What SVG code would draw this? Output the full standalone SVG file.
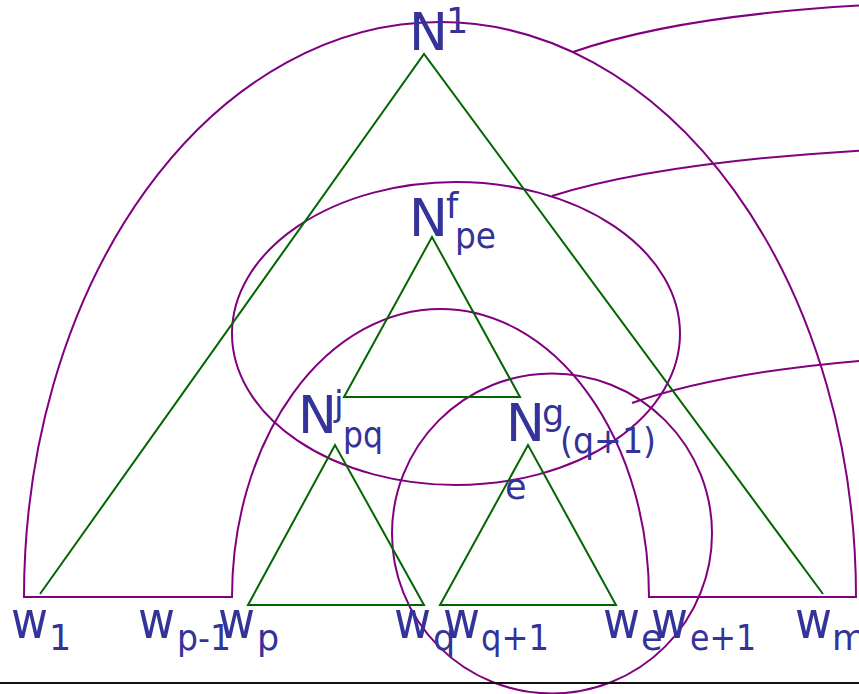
<svg xmlns="http://www.w3.org/2000/svg" width="859" height="694" viewBox="0 0 859 694">
<style>
.p{fill:none;stroke:#800080;stroke-width:2}
.g{fill:none;stroke:#006600;stroke-width:2;stroke-linejoin:miter}
.t{font-family:"DejaVu Sans","Verdana",sans-serif;fill:#333399}
.m{font-size:52px}
.s{font-size:35px}
</style>
<rect width="859" height="694" fill="#fff"/>
<g id="regions">
<path class="p" d="M24 597 A416 575 0 0 1 856 597 L649 597 A208.5 288 0 0 0 232 597 Z"/>
<ellipse class="p" cx="456" cy="333.5" rx="224" ry="151.5"/>
<circle class="p" cx="552" cy="533.5" r="160"/>
</g>
<g id="connectors">
<path class="p" d="M573 52 Q680 15 870 5"/>
<path class="p" d="M552 196 Q660 162 870 150"/>
<path class="p" d="M632 403 Q720 372 870 360"/>
</g>
<g id="trees">
<polyline class="g" points="40,594 424,54 823,594"/>
<polygon class="g" points="432,237 344,397 520,397"/>
<polygon class="g" points="335,445 248,605 424,605"/>
<polygon class="g" points="528,445 440,605 616,605"/>
</g>
<line x1="0" y1="683" x2="859" y2="683" stroke="#111" stroke-width="2"/>
<g id="N1" class="t"><text class="m" x="409" y="50">N</text><text class="s" x="446" y="33">1</text></g>
<g id="Nfpe" class="t"><text class="m" x="409" y="236">N</text><text class="s" x="446" y="218">f</text><text class="s" x="455" y="248" textLength="41" lengthAdjust="spacingAndGlyphs">pe</text></g>
<g id="Njpq" class="t"><text class="m" x="298" y="433">N</text><text class="s" x="334" y="416">j</text><text class="s" x="343" y="447" textLength="40" lengthAdjust="spacingAndGlyphs">pq</text></g>
<g id="Ngq1e" class="t"><text class="m" x="506" y="441">N</text><text class="s" x="542" y="425">g</text><text class="s" x="560" y="453" textLength="96" lengthAdjust="spacingAndGlyphs">(q+1)</text><text class="s" x="505" y="499">e</text></g>
<g id="w1" class="t"><text class="m" x="11" y="638" textLength="37" lengthAdjust="spacingAndGlyphs">w</text><text class="s" x="49" y="650">1</text></g>
<g id="wp-1" class="t"><text class="m" x="138" y="638" textLength="37" lengthAdjust="spacingAndGlyphs">w</text><text class="s" x="177" y="650" textLength="54" lengthAdjust="spacingAndGlyphs">p-1</text></g>
<g id="wp" class="t"><text class="m" x="218" y="638" textLength="37" lengthAdjust="spacingAndGlyphs">w</text><text class="s" x="257" y="650">p</text></g>
<g id="wq" class="t"><text class="m" x="394" y="638" textLength="37" lengthAdjust="spacingAndGlyphs">w</text><text class="s" x="433" y="650">q</text></g>
<g id="wq1" class="t"><text class="m" x="443" y="638" textLength="37" lengthAdjust="spacingAndGlyphs">w</text><text class="s" x="481" y="650" textLength="68" lengthAdjust="spacingAndGlyphs">q+1</text></g>
<g id="we" class="t"><text class="m" x="603" y="638" textLength="37" lengthAdjust="spacingAndGlyphs">w</text><text class="s" x="641" y="650">e</text></g>
<g id="we1" class="t"><text class="m" x="651" y="638" textLength="37" lengthAdjust="spacingAndGlyphs">w</text><text class="s" x="690" y="650" textLength="66" lengthAdjust="spacingAndGlyphs">e+1</text></g>
<g id="wm" class="t"><text class="m" x="795" y="638" textLength="37" lengthAdjust="spacingAndGlyphs">w</text><text class="s" x="832" y="650">m</text></g>
</svg>
